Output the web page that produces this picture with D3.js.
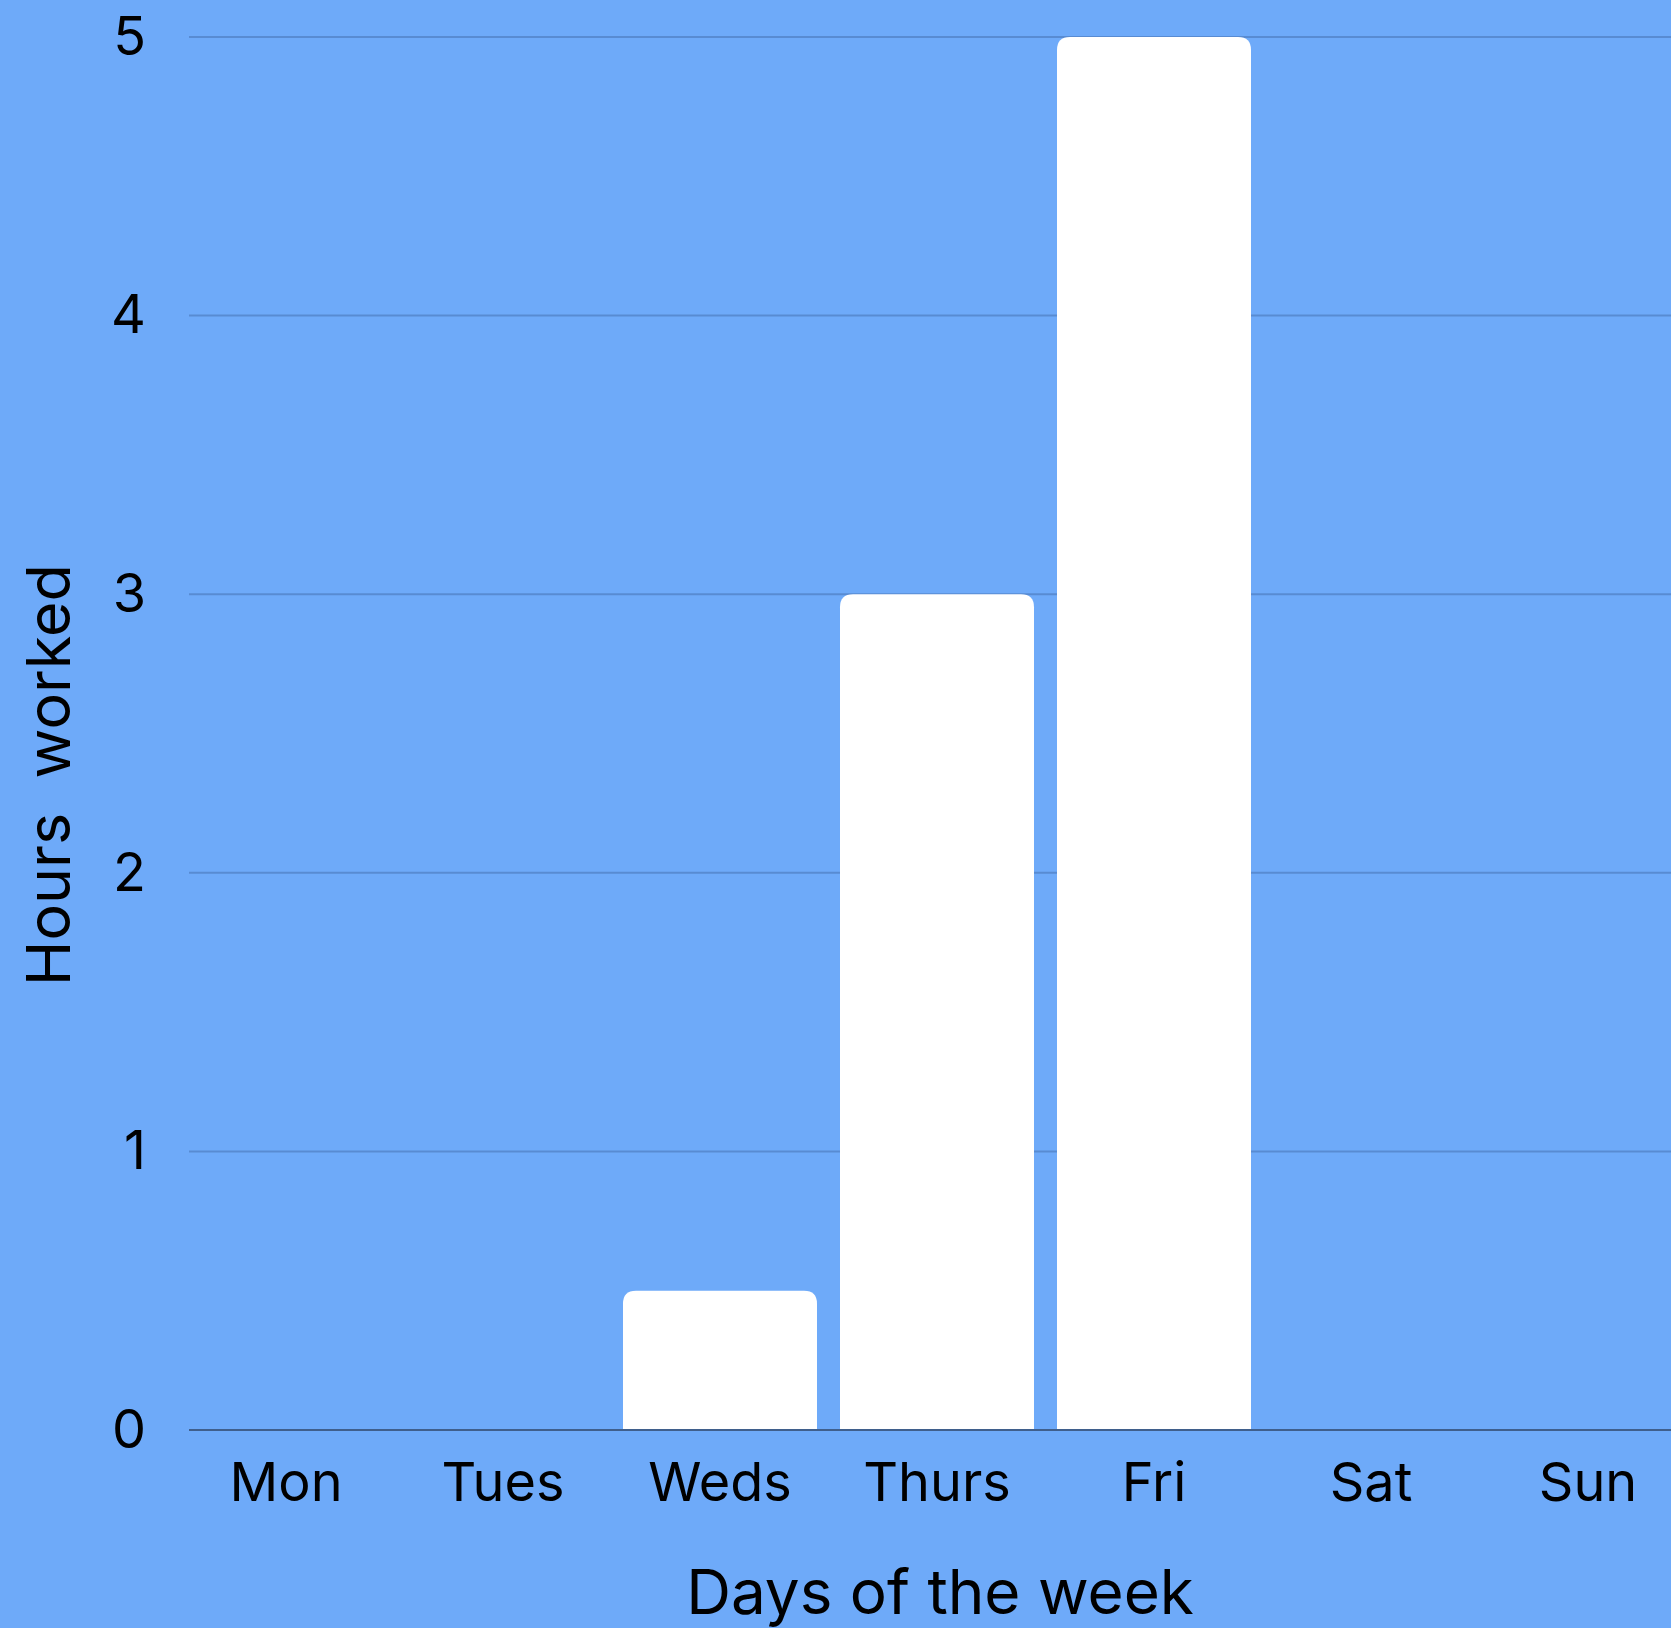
<!DOCTYPE html>
<html>
<head>
<meta charset="utf-8">
<script src="https://cdn.jsdelivr.net/npm/d3@7"></script>
<style>
  html, body { margin: 0; padding: 0; background: #6eaaf9; overflow: hidden; }
  svg { display: block; font-family: "Inter", "Noto Sans", sans-serif; }
</style>
</head>
<body>
<div id="chart"></div>
<script>
// Hours worked per day
const days = ["Mon", "Tues", "Weds", "Thurs", "Fri", "Sat", "Sun"];
const hours = [0, 0, 0.5, 3, 5, 0, 0];
const yTicks = [0, 1, 2, 3, 4, 5];

const width = 1671, height = 1628;
const plot = {left: 189, right: 1685, top: 37, bottom: 1430};

const svg = d3.select("#chart")
    .append("svg")
    .attr("width", width)
    .attr("height", height);

svg.append("rect")
    .attr("width", width)
    .attr("height", height)
    .attr("fill", "#6eaaf9");

const x = d3.scaleBand()
    .domain(days)
    .range([plot.left, plot.right])
    .paddingInner(0.106)
    .paddingOuter(0);

const y = d3.scaleLinear()
    .domain([0, 5])
    .range([plot.bottom, plot.top]);

// gridlines
svg.append("g")
    .selectAll("line")
    .data(yTicks.filter(d => d > 0))
    .join("line")
    .attr("x1", plot.left)
    .attr("x2", width)
    .attr("y1", d => y(d))
    .attr("y2", d => y(d))
    .attr("stroke", "#588bd2")
    .attr("stroke-width", 2);

// bars, rounded on top only
const r = 13;
function topRounded(x0, y0, w, h) {
    const rr = Math.min(r, h, w / 2);
    return `M${x0},${y0 + h}V${y0 + rr}Q${x0},${y0} ${x0 + rr},${y0}` +
           `H${x0 + w - rr}Q${x0 + w},${y0} ${x0 + w},${y0 + rr}V${y0 + h}Z`;
}

svg.append("g")
    .selectAll("path")
    .data(days.map((d, i) => ({day: d, value: hours[i]})).filter(d => d.value > 0))
    .join("path")
    .attr("d", d => topRounded(x(d.day), y(d.value), x.bandwidth(), y(0) - y(d.value)))
    .attr("fill", "#ffffff");

// baseline
svg.append("line")
    .attr("x1", plot.left)
    .attr("x2", width)
    .attr("y1", y(0))
    .attr("y2", y(0))
    .attr("stroke", "#3f5f8c")
    .attr("stroke-width", 2);

// y axis
const yAxis = svg.append("g")
    .attr("transform", `translate(${plot.left},0)`)
    .call(d3.axisLeft(y).tickValues(yTicks).tickSize(0).tickPadding(43).tickFormat(d3.format("d")));
yAxis.select(".domain").remove();
yAxis.selectAll("text")
    .attr("font-size", 54)
    .attr("font-family", "Inter, sans-serif")
    .attr("fill", "#000");

// x axis
const xAxis = svg.append("g")
    .attr("transform", `translate(0,${plot.bottom})`)
    .call(d3.axisBottom(x).tickSize(0).tickPadding(33));
xAxis.select(".domain").remove();
xAxis.selectAll("text")
    .attr("font-size", 54)
    .attr("font-family", "Inter, sans-serif")
    .attr("fill", "#000");

// axis titles
svg.append("text")
    .attr("x", 940)
    .attr("y", 1614)
    .attr("text-anchor", "middle")
    .attr("font-size", 62)
    .attr("fill", "#000")
    .text("Days of the week");

svg.append("text")
    .attr("transform", "translate(70,775) rotate(-90)")
    .attr("text-anchor", "middle")
    .attr("font-size", 61)
    .attr("fill", "#000")
    .style("white-space", "pre")
    .text("Hours  worked");
</script>
</body>
</html>
